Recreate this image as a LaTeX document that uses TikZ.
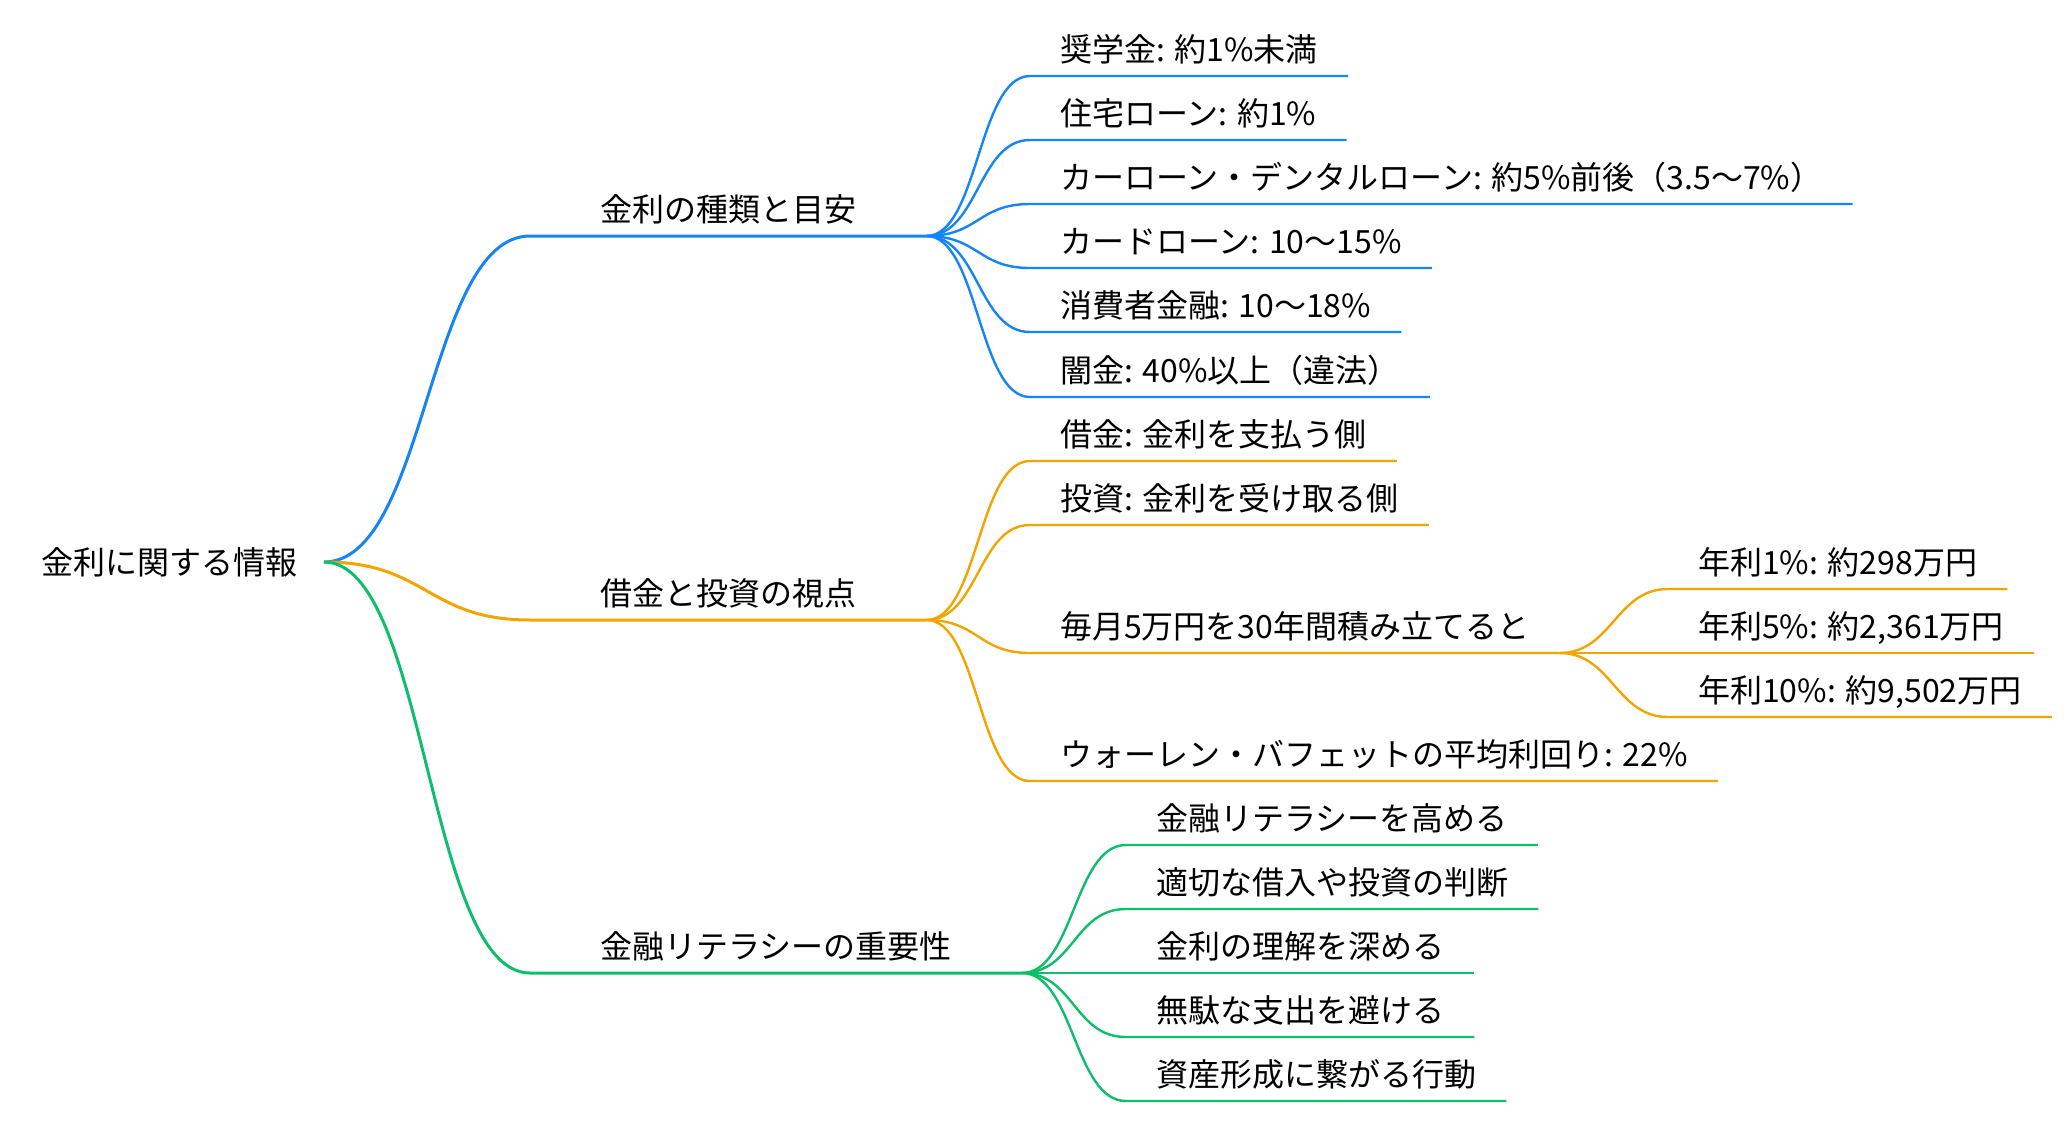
\documentclass[tikz,border=0pt]{standalone}
\usepackage{fontspec}
\setmainfont{Noto Sans CJK JP}
\usepackage{tikz}

\definecolor{kblue}{RGB}{22,132,247}
\definecolor{korange}{RGB}{242,165,0}
\definecolor{kgreen}{RGB}{14,190,106}

\tikzset{
  topic/.style={font=\fontsize{32}{38}\selectfont, inner ysep=0pt, text depth=14pt, anchor=south west},
  main/.style={topic, inner xsep=70pt},
  leaf/.style={topic, inner xsep=30pt},
  root/.style={font=\fontsize{32}{38}\selectfont, anchor=east, inner xsep=26pt},
  mainlink/.style={draw=#1, line width=3pt,
    to path={(\tikztostart.south east) -- (\tikztostart.south west) .. controls +(-103,0) and +(103,0) .. (\tikztotarget.east)}},
  link/.style={draw=#1, line width=2.4pt,
    to path={(\tikztostart.south east) -- (\tikztostart.south west) .. controls +(-52,0) and +(52,0) .. (\tikztotarget.south east)}}
}

\begin{document}
\begin{tikzpicture}[x=1pt, y=-1pt]
\useasboundingbox (0,0) rectangle (2072,1120);

\node (r) at (324,562) [root] {金利に関する情報};

\node (b) at (530,236) [main] {金利の種類と目安} edge[mainlink=kblue] (r);
	\node (b1) at (1030,76) [leaf] {奨学金: 約1\%未満} edge[link=kblue] (b);
	\node (b2) at (1030,140) [leaf] {住宅ローン: 約1\%} edge[link=kblue] (b);
	\node (b3) at (1030,204) [leaf] {カーローン・デンタルローン: 約5\%前後（3.5〜7\%）} edge[link=kblue] (b);
	\node (b4) at (1030,268) [leaf] {カードローン: 10〜15\%} edge[link=kblue] (b);
	\node (b5) at (1030,332) [leaf] {消費者金融: 10〜18\%} edge[link=kblue] (b);
	\node (b6) at (1030,397) [leaf] {闇金: 40\%以上（違法）} edge[link=kblue] (b);

\node (o) at (530,620) [main] {借金と投資の視点} edge[mainlink=korange] (r);
	\node (o1) at (1030,461) [leaf] {借金: 金利を支払う側} edge[link=korange] (o);
	\node (o2) at (1030,525) [leaf] {投資: 金利を受け取る側} edge[link=korange] (o);
	\node (o3) at (1030,653) [leaf] {毎月5万円を30年間積み立てると} edge[link=korange] (o);
		\node (o31) at (1668,589) [leaf] {年利1\%: 約298万円} edge[link=korange] (o3);
		\node (o32) at (1668,653) [leaf] {年利5\%: 約2,361万円} edge[link=korange] (o3);
		\node (o33) at (1668,717) [leaf] {年利10\%: 約9,502万円} edge[link=korange] (o3);
	\node (o4) at (1030,781) [leaf] {ウォーレン・バフェットの平均利回り: 22\%} edge[link=korange] (o);

\node (g) at (530,973) [main] {金融リテラシーの重要性} edge[mainlink=kgreen] (r);
	\node (g1) at (1126,845) [leaf] {金融リテラシーを高める} edge[link=kgreen] (g);
	\node (g2) at (1126,909) [leaf] {適切な借入や投資の判断} edge[link=kgreen] (g);
	\node (g3) at (1126,973) [leaf] {金利の理解を深める} edge[link=kgreen] (g);
	\node (g4) at (1126,1037) [leaf] {無駄な支出を避ける} edge[link=kgreen] (g);
	\node (g5) at (1126,1101) [leaf] {資産形成に繋がる行動} edge[link=kgreen] (g);
\end{tikzpicture}
\end{document}
